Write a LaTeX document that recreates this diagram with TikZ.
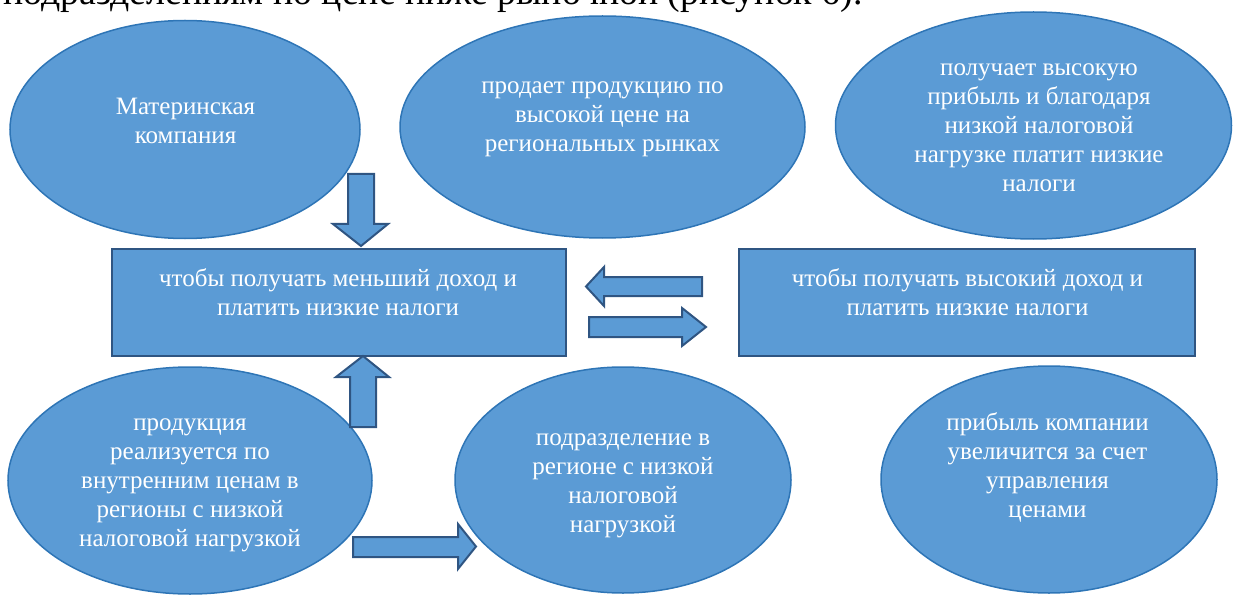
\documentclass[tikz,border=0pt]{standalone}
\usepackage{fontspec}
\setmainfont{Liberation Serif}
\newfontfamily\serfont{Liberation Serif}
\usetikzlibrary{shapes.geometric}
\definecolor{fillblue}{HTML}{5B9BD5}
\definecolor{ellline}{HTML}{2E75B6}
\definecolor{boxline}{HTML}{2F5582}
\begin{document}
\begin{tikzpicture}[x=1pt,y=-1pt,
  ell/.style={ellipse, draw=ellline, line width=1.5pt, fill=fillblue, inner sep=0pt},
  box/.style={rectangle, draw=boxline, line width=2.5pt, fill=fillblue, inner sep=0pt},
  txt/.style={text=white, align=center, font=\serfont\fontsize{25}{29}\selectfont, inner sep=0pt},
  blockarrow/.style={draw=boxline, line width=2pt, fill=fillblue, line join=miter}]
\useasboundingbox (0,0) rectangle (1234,596);
\clip (0,0) rectangle (1234,596);
\node[anchor=base west, font=\serfont\fontsize{37.8}{40}\selectfont, inner sep=0pt] (cap) at (3,5) {подразделениям по цене ниже рыночной (рисунок 6).};

% ellipses
\node[ell, minimum width=350pt, minimum height=218pt] (e1) at (185,129.5) {};
\node[ell, minimum width=405pt, minimum height=222pt] (e2) at (602.5,127) {};
\node[ell, minimum width=396pt, minimum height=227pt] (e3) at (1033.5,125.5) {};
\node[ell, minimum width=364pt, minimum height=227pt] (e4) at (190,480.5) {};
\node[ell, minimum width=336pt, minimum height=226pt] (e5) at (623,480) {};
\node[ell, minimum width=336pt, minimum height=227pt] (e6) at (1049,479.5) {};
% boxes
\node[box, minimum width=454pt, minimum height=107pt] (r1) at (339,302.5) {};
\node[box, minimum width=456pt, minimum height=107pt] (r2) at (967,302.5) {};

% texts
\node[txt] (t1) at (185.5,121) {Материнская\\компания};
\node[txt] (t2) at (602.5,119.5) {продает продукцию по\\высокой цене на\\региональных рынках};
\node[txt] (t3) at (1039,128) {получает высокую\\прибыль и благодаря\\низкой налоговой\\нагрузке платит низкие\\налоги};
\node[txt] (t4) at (338,292.5) {чтобы получать меньший доход и\\платить низкие налоги};
\node[txt] (t5) at (967.5,292.5) {чтобы получать высокий доход и\\платить низкие налоги};
\node[txt] (t6) at (190,485) {продукция\\реализуется по\\внутренним ценам в\\регионы с низкой\\налоговой нагрузкой};
\node[txt] (t7) at (623,485.5) {подразделение в\\регионе с низкой\\налоговой\\нагрузкой};
\node[txt] (t8) at (1047.5,467.5) {прибыль компании\\увеличится за счет\\управления\\ценами};

% block arrows
\draw[blockarrow] (348,174) -- (374,174) -- (374,224) -- (388,224) -- (361,246) -- (333,224) -- (348,224) -- cycle;
\draw[blockarrow] (350,427) -- (376,427) -- (376,377) -- (389,377) -- (363,356) -- (336,377) -- (350,377) -- cycle;
\draw[blockarrow] (702,277) -- (702,296) -- (604,296) -- (604,306) -- (586,286.5) -- (604,267) -- (604,277) -- cycle;
\draw[blockarrow] (589,317) -- (682,317) -- (682,308) -- (706,327) -- (682,346) -- (682,337) -- (589,337) -- cycle;
\draw[blockarrow] (353,537) -- (458,537) -- (458,524) -- (476,546.5) -- (458,569) -- (458,557) -- (353,557) -- cycle;
\end{tikzpicture}
\end{document}
